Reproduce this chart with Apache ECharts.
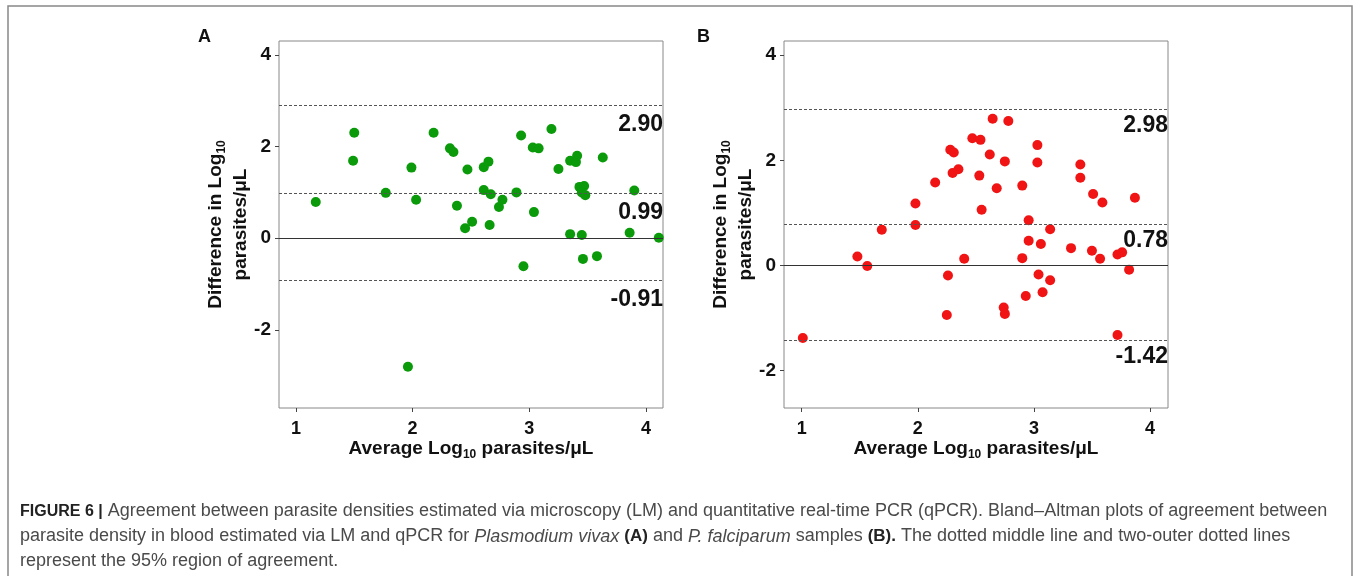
<!DOCTYPE html>
<html>
<head>
<meta charset="utf-8">
<script src="https://cdn.jsdelivr.net/npm/echarts@6/dist/echarts.min.js"></script>
<style>
html,body{margin:0;padding:0;background:#fff;}
#chart{width:1357px;height:576px;}
</style>
</head>
<body>
<div id="chart"></div>
<script>
// panel A - P. vivax
var avgA=[1.17,1.50,1.49,1.77,1.99,2.03,2.18,2.32,2.35,2.47,2.38,2.45,2.51,2.61,2.65,2.61,2.67,2.66,2.74,2.77,2.89,2.93,3.04,3.03,3.08,3.19,3.25,3.35,3.40,3.41,3.63,3.43,3.47,3.45,3.48,3.90,3.35,3.45,3.86,4.11,2.95,3.46,3.58,1.96];
var diffA=[0.79,2.30,1.69,0.99,1.54,0.84,2.30,1.96,1.88,1.50,0.71,0.22,0.36,1.55,1.67,1.05,0.96,0.29,0.68,0.84,1.00,2.24,0.57,1.98,1.96,2.38,1.51,1.69,1.66,1.80,1.76,1.12,1.14,1.00,0.94,1.04,0.09,0.07,0.12,0.01,-0.61,-0.45,-0.39,-2.80];
var limitsA=[2.90,0.99,-0.91];
// panel B - P. falciparum
var avgB=[2.645,2.78,2.47,2.54,2.28,2.31,2.62,3.03,2.75,3.03,2.30,2.35,2.53,2.15,2.68,2.90,3.40,3.40,3.51,3.59,3.87,1.98,2.55,1.98,1.69,2.955,3.14,2.955,3.06,3.32,3.50,3.57,3.72,3.76,2.90,2.40,1.48,1.565,2.26,3.04,3.14,3.82,2.93,3.075,2.74,2.75,2.25,3.72,1.01];
var diffB=[2.79,2.75,2.42,2.39,2.20,2.15,2.11,2.29,1.98,1.96,1.76,1.83,1.71,1.58,1.47,1.52,1.92,1.67,1.36,1.20,1.29,1.18,1.06,0.77,0.68,0.86,0.69,0.47,0.41,0.33,0.28,0.13,0.21,0.25,0.14,0.13,0.17,-0.01,-0.19,-0.17,-0.28,-0.08,-0.58,-0.51,-0.80,-0.92,-0.94,-1.32,-1.38];
var limitsB=[2.98,0.78,-1.42];

var xTicks=[1,2,3,4];
var yTicks=[-2,0,2,4];

var FONT='"Liberation Sans", Arial, sans-serif';
var chart=echarts.init(document.getElementById('chart'));

function pairs(xs,ys){
  return xs.map(function(x,i){return [x,ys[i]];});
}

var nameRich={
  n:{fontFamily:FONT,fontWeight:'bold',fontSize:19,color:'#111',lineHeight:25},
  s:{fontFamily:FONT,fontWeight:'bold',fontSize:12,color:'#111',lineHeight:25,verticalAlign:'bottom',padding:[9,0,0,0]}
};

function xAx(idx,min,max){
  return {
    type:'value',gridIndex:idx,min:min,max:max,
    axisLine:{show:false,onZero:false},
    axisTick:{show:true,length:4,lineStyle:{color:'#444'},customValues:xTicks},
    axisLabel:{fontFamily:FONT,fontWeight:'bold',fontSize:18,color:'#111',margin:12,customValues:xTicks},
    splitLine:{show:false},
    name:'{n|Average Log}{s|10}{n| parasites/μL}',
    nameLocation:'middle',nameGap:28,nameMoveOverlap:false,
    nameTextStyle:{rich:nameRich}
  };
}
function yAx(idx,min,max){
  return {
    type:'value',gridIndex:idx,min:min,max:max,
    axisLine:{show:false,onZero:false},
    axisTick:{show:true,length:4,lineStyle:{color:'#444'},customValues:yTicks},
    axisLabel:{fontFamily:FONT,fontWeight:'bold',fontSize:19,color:'#111',margin:8,customValues:yTicks},
    splitLine:{show:false},
    name:'{n|Difference in Log}{s|10}\n{n|parasites/μL}',
    nameLocation:'middle',nameRotate:90,nameGap:26,nameMoveOverlap:false,
    nameTextStyle:{rich:nameRich}
  };
}

function limitLines(limits,dy){
  var d=limits.map(function(v){
    return {yAxis:v,lineStyle:{type:[3,2],color:'#555',width:1},
      label:{show:true,formatter:v.toFixed(2),position:'insideEndBottom',distance:[0,dy],
        fontFamily:FONT,fontWeight:'bold',fontSize:23,color:'#111'}};
  });
  d.push({yAxis:0,lineStyle:{type:'solid',color:'#333',width:1},label:{show:false}});
  return d;
}

function series(idx,xs,ys,color,limits,dy){
  return {
    type:'scatter',xAxisIndex:idx,yAxisIndex:idx,
    data:pairs(xs,ys),symbolSize:10,
    itemStyle:{color:color,opacity:1},
    markLine:{silent:true,symbol:'none',animation:false,data:limitLines(limits,dy)}
  };
}

var option={
  animation:false,
  grid:[
    {left:279,right:694,top:41,bottom:168,show:true,borderColor:'#888',borderWidth:1},
    {left:784,right:189,top:41,bottom:168,show:true,borderColor:'#888',borderWidth:1}
  ],
  xAxis:[xAx(0,0.855,4.146),xAx(1,0.848,4.155)],
  yAxis:[yAx(0,-3.70,4.30),yAx(1,-2.71,4.27)],
  series:[
    series(0,avgA,diffA,'#0a9a0a',limitsA,8),
    series(1,avgB,diffB,'#f01414',limitsB,5)
  ],
  graphic:[
    {type:'rect',shape:{x:8,y:6,width:1344,height:580},style:{fill:null,stroke:'#888',lineWidth:1.5},silent:true},
    {type:'text',left:198,top:28,style:{text:'A',font:'bold 18px '+FONT,fill:'#111'}},
    {type:'text',left:697,top:28,style:{text:'B',font:'bold 18px '+FONT,fill:'#111'}},
    {type:'text',left:20,top:499,style:{
      text:'{f|FIGURE 6 |} Agreement between parasite densities estimated via microscopy (LM) and quantitative real-time PCR (qPCR). Bland–Altman plots of agreement between\n'+
           'parasite density in blood estimated via LM and qPCR for {i|Plasmodium vivax} {b|(A)} and {i|P. falciparum} samples {b|(B).} The dotted middle line and two-outer dotted lines\n'+
           'represent the 95% region of agreement.',
      font:'18px '+FONT,fill:'#4a4a4a',lineHeight:25,
      rich:{
        f:{fontFamily:FONT,fontWeight:'bold',fontSize:16,fill:'#222',lineHeight:25},
        b:{fontFamily:FONT,fontWeight:'bold',fontSize:17,fill:'#222',lineHeight:25},
        i:{fontFamily:FONT,fontStyle:'italic',fontSize:18,fill:'#4a4a4a',lineHeight:25}
      }
    }}
  ]
};
chart.setOption(option);
</script>
</body>
</html>
